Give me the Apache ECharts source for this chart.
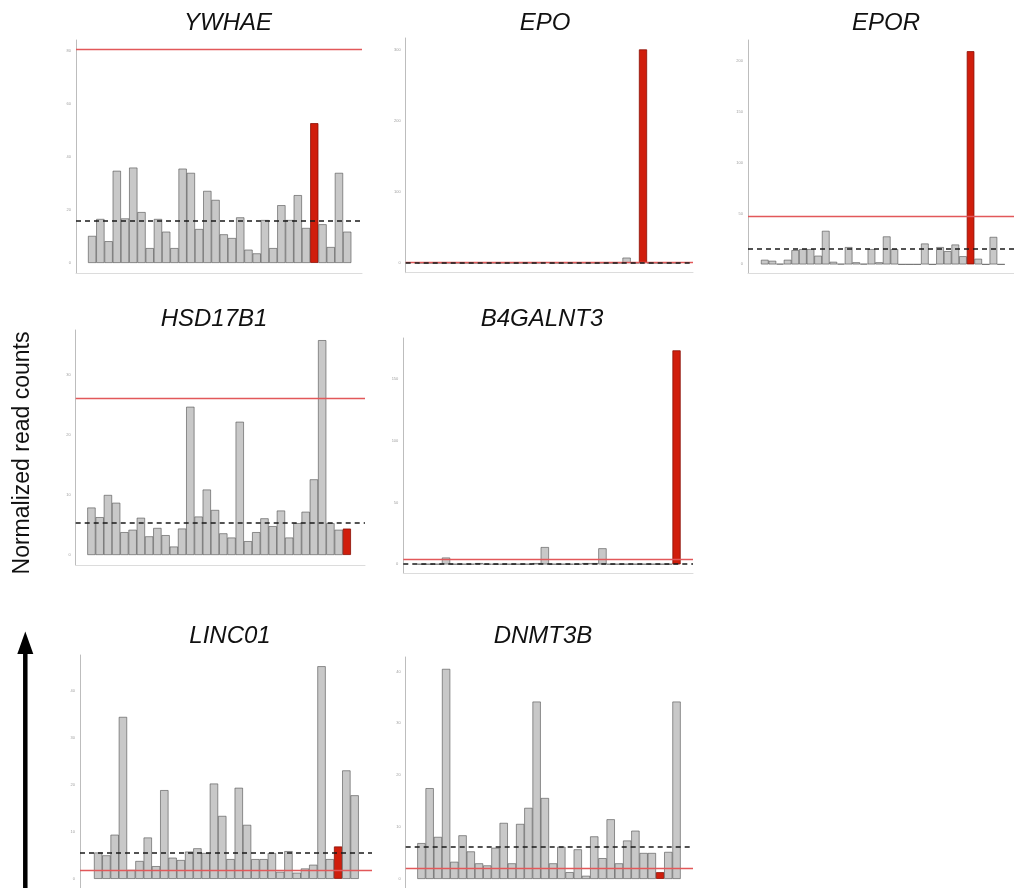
<!DOCTYPE html>
<html>
<head>
<meta charset="utf-8">
<title>Normalized read counts per gene</title>
<script src="https://cdn.jsdelivr.net/npm/echarts@6/dist/echarts.min.js"></script>
<style>
  html, body { margin: 0; padding: 0; background: #ffffff; }
  #chart { width: 1014px; height: 888px; }
</style>
</head>
<body>
<div id="chart"></div>
<script>
// Genes shown, one panel each
const genes = ['YWHAE', 'EPO', 'EPOR', 'HSD17B1', 'B4GALNT3', 'LINC01', 'DNMT3B'];

// Normalized read counts for the 32 samples of each gene
const ywhae = [10.2, 16.6, 8.2, 34.8, 16.8, 36.0, 19.2, 5.6, 16.6, 11.8, 5.6, 35.6, 34.0, 12.8, 27.2, 23.8,
               10.8, 9.4, 17.2, 5.0, 3.6, 16.2, 5.6, 21.8, 16.2, 25.6, 13.2, 52.8, 14.6, 6.0, 34.0, 11.8];
const epo = [0, 0, 0, 0, 0, 0, 0, 0, 0, 0, 0, 0, 0, 0, 0, 1,
             0, 0, 0, 0, 0, 0, 0, 0, 0, 7.5, 0, 300, 0, 0, 0, 0];
const epor = [4.5, 3.5, 0.5, 4.5, 14, 15, 15, 8.5, 33, 2.5, 0.5, 17, 2, 0.5, 15, 2,
              27.5, 15, 0, 0, 0, 20.5, 0, 17, 13, 19.5, 8, 210, 5.5, 0, 27, 0];
const hsd17b1 = [7.9, 6.3, 10.0, 8.7, 3.8, 4.2, 6.2, 3.1, 4.5, 3.3, 1.4, 4.4, 24.7, 6.4, 10.9, 7.5,
                 3.6, 2.9, 22.2, 2.3, 3.8, 6.1, 4.8, 7.4, 2.9, 5.3, 7.2, 12.6, 35.8, 5.3, 4.2, 4.4];
const b4galnt3 = [0.3, 0.3, 0.3, 5.5, 0.3, 0.3, 0.3, 1, 0.3, 0.3, 0.3, 0.3, 0.3, 0.3, 1, 14,
                  0.3, 0.3, 0.3, 0.3, 1, 1, 13, 0.3, 0.3, 0.3, 0.3, 0.3, 0.3, 0.3, 0.3, 173.5];
const linc01 = [5.6, 5.0, 9.4, 34.5, 1.9, 3.8, 8.8, 2.7, 18.9, 4.5, 4.0, 5.8, 6.5, 5.5, 20.3, 13.4,
                4.2, 19.4, 11.5, 4.2, 4.2, 5.5, 1.5, 5.9, 1.3, 2.2, 3.0, 45.3, 4.2, 6.9, 23.1, 17.8];
const dnmt3b = [6.9, 17.5, 8.1, 40.5, 3.3, 8.4, 5.3, 3.0, 2.6, 6.0, 10.8, 3.0, 10.6, 13.7, 34.2, 15.6,
                3.0, 6.2, 1.3, 5.7, 0.6, 8.2, 4.0, 11.5, 3.0, 7.4, 9.3, 5.0, 5.0, 1.3, 5.2, 34.2];
const counts = [ywhae, epo, epor, hsd17b1, b4galnt3, linc01, dnmt3b];

// Sample highlighted in red for each gene
const highlighted = [27, 27, 27, 31, 31, 29, 29];
// Median across samples (dashed) and threshold (red line)
const medianLevel = [16.0, 0.6, 15.5, 5.3, 0.5, 5.5, 6.2];
const thresholdLevel = [80.6, 1.2, 47.5, 26.2, 4, 1.9, 2.0];

// Y axis tick labels per gene
const tickLabels = [
  [0, 20, 40, 60, 80],
  [0, 100, 200, 300],
  [0, 50, 100, 150, 200],
  [0, 10, 20, 30],
  [0, 50, 100, 150],
  [0, 10, 20, 30, 40],
  [0, 10, 20, 30, 40]
];

// Panel placement: plot box in pixels, axis ranges and title anchor
const panels = [
  { x0: 76,    y0: 40,  x1: 362,  y1: 273,   xMin: -1.96, xMax: 32.8, yMin: -3.8,  yMax: 84.2,  tx: 228, ty: 35 },
  { x0: 405.7, y0: 38,  x1: 693,  y1: 272.7, xMin: -1.95, xMax: 33.1, yMin: -13.6, yMax: 316,   tx: 545, ty: 35 },
  { x0: 748,   y0: 40,  x1: 1014, y1: 273,   xMin: -2.2,  xMax: 32.7, yMin: -8.5,  yMax: 221,   tx: 886, ty: 35 },
  { x0: 75.7,  y0: 330, x1: 365,  y1: 565,   xMin: -1.91, xMax: 33.2, yMin: -1.67, yMax: 37.5,  tx: 214, ty: 331 },
  { x0: 403.3, y0: 338, x1: 693,  y1: 573,   xMin: -2.19, xMax: 33.0, yMin: -7,    yMax: 183.5, tx: 542, ty: 331 },
  { x0: 80,    y0: 655, x1: 372,  y1: 892,   xMin: -2.19, xMax: 33.1, yMin: -1.95, yMax: 47.7,  tx: 230, ty: 648 },
  { x0: 405.7, y0: 657, x1: 693,  y1: 893,   xMin: -1.91, xMax: 33.0, yMin: -1.75, yMax: 42.8,  tx: 543, ty: 648 }
];

const grids = [], xAxes = [], yAxes = [], series = [], graphics = [];

genes.forEach(function (gene, g) {
  const p = panels[g];
  grids.push({ left: p.x0, top: p.y0, width: p.x1 - p.x0, height: p.y1 - p.y0, containLabel: false });
  xAxes.push({
    type: 'value', gridIndex: g, min: p.xMin, max: p.xMax,
    axisLine: { show: true, onZero: false, lineStyle: { color: '#dcdcdc', width: 1 } },
    axisTick: { show: false }, axisLabel: { show: false }, splitLine: { show: false }
  });
  yAxes.push({
    type: 'value', gridIndex: g, min: p.yMin, max: p.yMax,
    axisLine: { show: true, onZero: false, lineStyle: { color: '#bdbdbd', width: 1 } },
    axisTick: { show: false },
    axisLabel: { show: true, customValues: tickLabels[g], fontSize: 4, color: '#a0a0a0', margin: 5,
                 fontFamily: 'Liberation Sans' },
    splitLine: { show: false }
  });
  const data = counts[g].map(function (v, i) {
    const item = { value: [i, v] };
    if (i === highlighted[g]) {
      item.itemStyle = { color: '#d01e0c', borderColor: '#8a0f05', borderWidth: 0.8 };
    }
    return item;
  });
  series.push({
    type: 'bar', xAxisIndex: g, yAxisIndex: g, data: data,
    barCategoryGap: '0%', barGap: '0%',
    itemStyle: { color: '#c8c8c8', borderColor: '#4f4f4f', borderWidth: 0.6 },
    silent: true,
    markLine: {
      silent: true, symbol: ['none', 'none'], animation: false,
      label: { show: false },
      emphasis: { disabled: true },
      data: [
        { yAxis: thresholdLevel[g], lineStyle: { color: '#e2585a', width: 1.3, type: 'solid' } },
        { yAxis: medianLevel[g], lineStyle: { color: '#1a1a1a', width: 1.6, type: [5, 4] } }
      ]
    }
  });
  graphics.push({
    type: 'text', x: p.tx, y: p.ty,
    style: { text: gene, fill: '#111', font: 'italic 24px "Liberation Sans", Arial, sans-serif',
             textAlign: 'center', textVerticalAlign: 'bottom' }
  });
});

// Shared y axis caption with arrow
graphics.push({
  type: 'text', x: 23, y: 453, rotation: Math.PI / 2,
  style: { text: 'Normalized read counts', fill: '#111', font: '23px "Liberation Sans", Arial, sans-serif',
           textAlign: 'center', textVerticalAlign: 'middle' }
});
graphics.push({
  type: 'line', shape: { x1: 25.3, y1: 888, x2: 25.3, y2: 650 },
  style: { stroke: '#000', lineWidth: 4.5 }
});
graphics.push({
  type: 'polygon', shape: { points: [[25.3, 631.5], [17.3, 654], [33.3, 654]] },
  style: { fill: '#000' }
});

const chart = echarts.init(document.getElementById('chart'), null, { renderer: 'canvas' });
chart.setOption({
  animation: false,
  backgroundColor: '#ffffff',
  grid: grids,
  xAxis: xAxes,
  yAxis: yAxes,
  series: series,
  graphic: graphics
});
</script>
</body>
</html>
